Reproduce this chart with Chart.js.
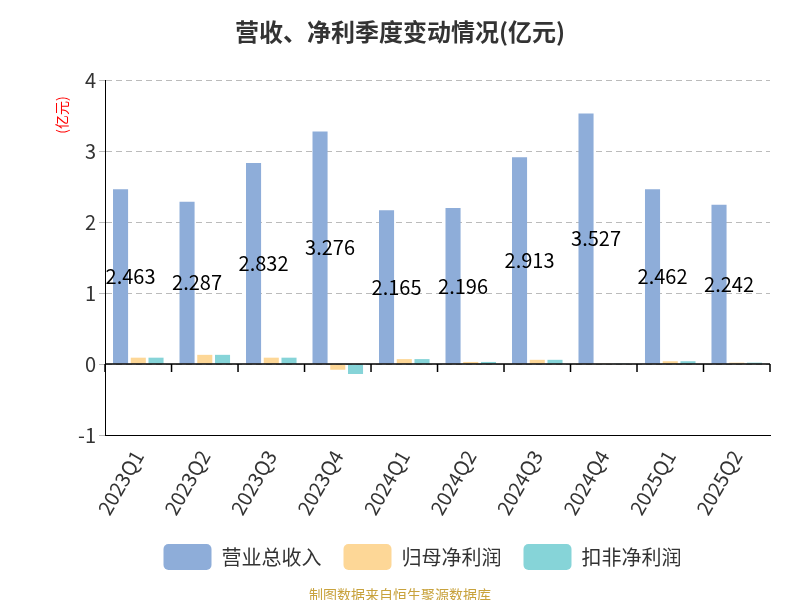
<!DOCTYPE html><html><head><meta charset="utf-8"><script src="https://cdn.jsdelivr.net/npm/chart.js"></script>
<style>body{margin:0;background:#fff}#w{width:800px;height:600px;position:relative}</style></head><body><div id="w"><canvas id="c" width="800" height="600"></canvas></div>
<script>
const categories=['2023Q1','2023Q2','2023Q3','2023Q4','2024Q1','2024Q2','2024Q3','2024Q4','2025Q1','2025Q2'];
const revenue=[2.463,2.287,2.832,3.276,2.165,2.196,2.913,3.527,2.462,2.242];
const netProfit=[0.09,0.13,0.09,-0.08,0.07,0.03,0.06,0.01,0.04,0.02];
const deductedProfit=[0.09,0.13,0.09,-0.14,0.07,0.03,0.06,0.01,0.04,0.02];
const yTicks=[-1,0,1,2,3,4];
const F='"Noto Sans CJK SC","Noto Sans",sans-serif';
const labelPlugin={id:'lbl',afterDatasetsDraw(ch){const c=ch.ctx;const m=ch.getDatasetMeta(0);const y=ch.scales.y;c.save();c.font='20px '+F;c.fillStyle='#000';c.textAlign='center';c.textBaseline='middle';m.data.forEach((b,i)=>{c.fillText(revenue[i].toFixed(3),b.x+10,y.getPixelForValue(revenue[i]/2));});c.restore();}};
const extra={id:'ex',afterDraw(ch){const c=ch.ctx;c.save();c.font='bold 24px '+F;c.fillStyle='#333';c.textAlign='center';c.fillText('营收、净利季度变动情况(亿元)',400,32);c.font='14px '+F;c.fillStyle='#c8a23c';c.fillText('制图数据来自恒生聚源数据库',400,595);c.translate(62,115);c.rotate(-Math.PI/2);c.fillStyle='red';c.font='14px '+F;c.fillText('(亿元)',0,0);c.restore();}};
new Chart(document.getElementById('c'),{type:'bar',data:{labels:categories,datasets:[
{label:'营业总收入',data:revenue,backgroundColor:'#8eadd9'},
{label:'归母净利润',data:netProfit,backgroundColor:'#fdd797'},
{label:'扣非净利润',data:deductedProfit,backgroundColor:'#86d4d8'}]},
options:{responsive:false,animation:false,devicePixelRatio:1,
layout:{padding:{top:80,left:75,right:30,bottom:20}},
datasets:{bar:{categoryPercentage:0.8,barPercentage:0.85}},
plugins:{legend:{position:'bottom',labels:{font:{size:20,family:F},color:'#333',boxWidth:48,boxHeight:26,padding:22,useBorderRadius:true,borderRadius:5}},tooltip:{enabled:false}},
scales:{x:{grid:{display:false,drawTicks:true},border:{color:'#000'},ticks:{font:{size:20,family:F},color:'#333',maxRotation:60,minRotation:60}},
y:{min:-1,max:4,afterBuildTicks(a){a.ticks=yTicks.map(v=>({value:v}))},grid:{color:'#bbb',drawTicks:true,tickLength:6},border:{color:'#000',dash:[6,4]},ticks:{font:{size:20,family:F},color:'#333'}}}},
plugins:[labelPlugin,extra,{id:'zero',afterDatasetsDraw(ch){const c=ch.ctx,y=ch.scales.y.getPixelForValue(0);c.save();c.strokeStyle='#000';c.lineWidth=1.5;c.beginPath();c.moveTo(ch.chartArea.left,y);c.lineTo(ch.chartArea.right,y);for(let i=0;i<=categories.length;i++){const px=ch.chartArea.left+i*(ch.chartArea.right-ch.chartArea.left)/categories.length;c.moveTo(px,y);c.lineTo(px,y+8);}c.stroke();c.restore();}}]});
</script></body></html>
